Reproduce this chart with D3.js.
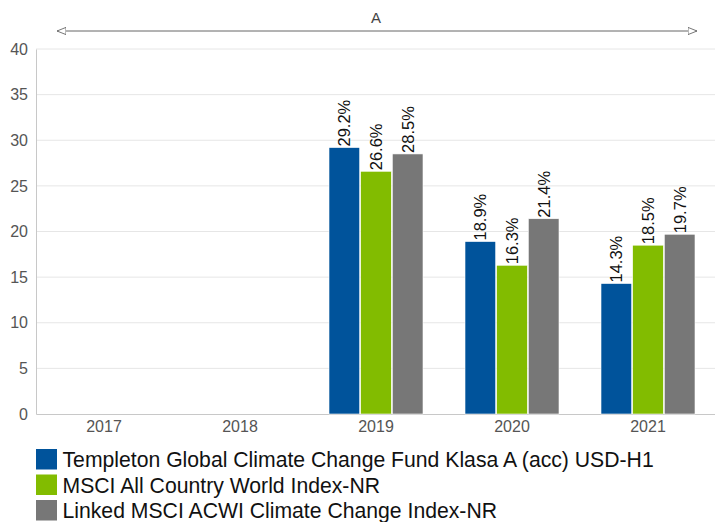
<!DOCTYPE html>
<html>
<head>
<meta charset="utf-8">
<script src="https://cdn.jsdelivr.net/npm/d3@7"></script>
<style>
  body { margin: 0; background: #fff; }
  svg { display: block; font-family: "Liberation Sans", Arial, sans-serif; }
</style>
</head>
<body>
<div id="chart"></div>
<script>
const years = ['2017', '2018', '2019', '2020', '2021'];
const seriesNames = [
    'Templeton Global Climate Change Fund Klasa A (acc) USD-H1',
    'MSCI All Country World Index-NR',
    'Linked MSCI ACWI Climate Change Index-NR'
];
const fundValues = [null, null, 29.2, 18.9, 14.3];
const acwiValues = [null, null, 26.6, 16.3, 18.5];
const climateValues = [null, null, 28.5, 21.4, 19.7];
const yTicks = [0, 5, 10, 15, 20, 25, 30, 35, 40];
const colors = ['#00539b', '#82bc00', '#777777'];

const width = 715, height = 522;
const margin = { top: 49, right: -1, bottom: 108, left: 36 };
const innerW = width - margin.left - margin.right;
const innerH = height - margin.top - margin.bottom;

const svg = d3.select('#chart').append('svg')
    .attr('width', width)
    .attr('height', height);

const g = svg.append('g').attr('transform', `translate(${margin.left},${margin.top})`);

const x = d3.scaleBand().domain(years).range([0, innerW]);
const x1 = d3.scaleBand().domain(d3.range(3)).range([x.bandwidth() / 2 - 47, x.bandwidth() / 2 + 47]).paddingInner(0.03);
const y = d3.scaleLinear().domain([0, 40]).range([innerH, 0]);

// grid
g.append('g')
    .selectAll('line')
    .data(yTicks.slice(1))
    .enter()
    .append('line')
    .attr('x1', 0)
    .attr('x2', innerW)
    .attr('y1', d => y(d))
    .attr('y2', d => y(d))
    .style('stroke', '#e6e6e6');

// y axis
const yAxis = g.append('g')
    .call(d3.axisLeft(y).tickValues(yTicks).tickSize(0).tickPadding(8));
yAxis.select('.domain').style('stroke', '#c8c8c8');
yAxis.selectAll('text').style('font-size', '16px').style('fill', '#555');

// x axis
const xAxis = g.append('g')
    .attr('transform', `translate(0,${innerH})`)
    .call(d3.axisBottom(x).tickSize(0).tickPadding(7));
xAxis.select('.domain').style('stroke', '#c8c8c8');
xAxis.selectAll('text').style('font-size', '16px').style('fill', '#555');

// bars
const series = [fundValues, acwiValues, climateValues];
const rows = [];
years.forEach((year, i) => {
    series.forEach((values, s) => {
        if (values[i] != null) {
            rows.push({ year, s, value: values[i] });
        }
    });
});

const bar = g.append('g')
    .selectAll('g.bar')
    .data(rows)
    .enter()
    .append('g')
    .attr('class', 'bar')
    .attr('transform', d => `translate(${x(d.year) + x1(d.s)},0)`);

bar.append('rect')
    .attr('x', 0)
    .attr('width', x1.bandwidth())
    .attr('y', d => y(d.value))
    .attr('height', d => innerH - y(d.value))
    .style('fill', d => colors[d.s])
    .style('stroke', '#fff')
    .style('stroke-width', 0.6);

bar.append('text')
    .attr('transform', d => `translate(${x1.bandwidth() / 2 + 6},${y(d.value) - 1}) rotate(-90)`)
    .style('font-size', '16.5px')
    .style('fill', '#111')
    .text(d => `${d.value.toFixed(1)}%`);

// period arrow
const defs = svg.append('defs');
['start', 'end'].forEach(side => {
    defs.append('marker')
        .attr('id', `arrow-${side}`)
        .attr('viewBox', '0 0 10 10')
        .attr('refX', side === 'end' ? 10 : 0)
        .attr('refY', 5)
        .attr('markerWidth', 9)
        .attr('markerHeight', 9)
        .attr('markerUnits', 'userSpaceOnUse')
        .attr('orient', 'auto')
        .append('path')
        .attr('d', side === 'end' ? 'M0,1 L10,5 L0,9 Z' : 'M10,1 L0,5 L10,9 Z')
        .style('fill', '#fff')
        .style('stroke', '#666')
        .style('stroke-width', 1);
});

const arrowY = 31;
svg.append('line')
    .attr('x1', margin.left + 21)
    .attr('x2', margin.left + innerW - 19)
    .attr('y1', arrowY)
    .attr('y2', arrowY)
    .style('stroke', '#666')
    .style('stroke-width', 1)
    .attr('marker-start', 'url(#arrow-start)')
    .attr('marker-end', 'url(#arrow-end)');

svg.append('text')
    .attr('x', margin.left + x('2019') + x.bandwidth() / 2)
    .attr('y', 23)
    .attr('text-anchor', 'middle')
    .style('font-size', '15px')
    .style('fill', '#444')
    .text('A');

// legend
const legend = svg.append('g')
    .attr('transform', `translate(${margin.left},449)`);

const item = legend.selectAll('g')
    .data(seriesNames)
    .enter()
    .append('g')
    .attr('transform', (d, i) => `translate(0,${i * 25.5})`);

item.append('rect')
    .attr('width', 21)
    .attr('height', 20.5)
    .style('fill', (d, i) => colors[i]);

item.append('text')
    .attr('x', 26.5)
    .attr('y', 18)
    .style('font-size', '21.2px')
    .style('fill', '#111')
    .text(d => d);
</script>
</body>
</html>
